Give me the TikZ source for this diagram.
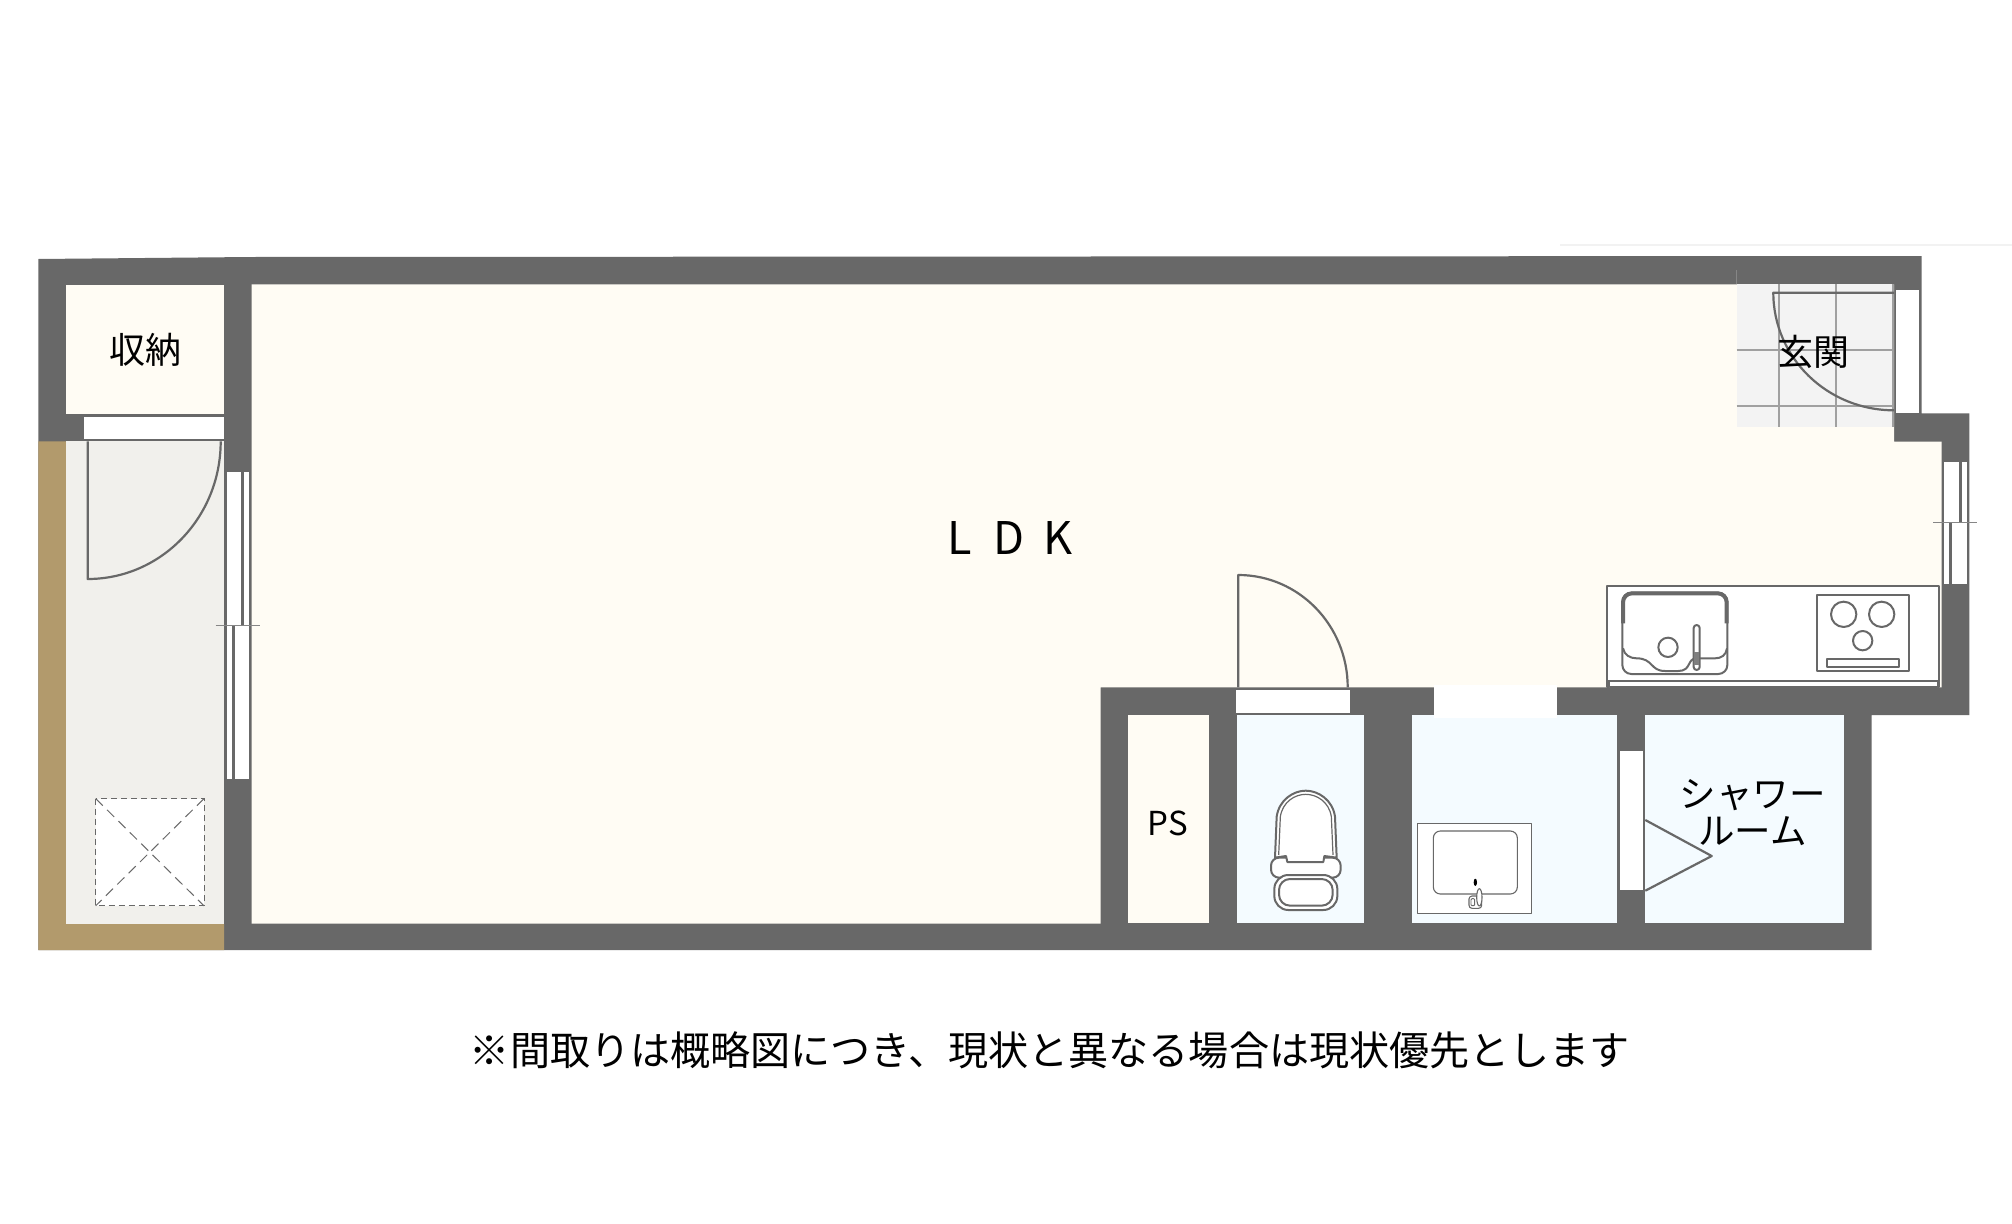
\documentclass[tikz,border=0pt]{standalone}
\usepackage{fontspec}
\setmainfont{Noto Sans CJK JP}
\definecolor{wallc}{HTML}{686868}
\definecolor{creamc}{HTML}{FFFCF4}
\definecolor{bluec}{HTML}{F4FBFF}
\definecolor{floorc}{HTML}{F1F0EC}
\definecolor{brownc}{HTML}{B29A6C}
\definecolor{tilec}{HTML}{F3F3F3}
\definecolor{tilel}{HTML}{A0A0A0}
\tikzset{
  wall/.style={fill=wallc},
  cream/.style={fill=creamc},
  wet/.style={fill=bluec},
  pane/.style={fill=white},
  doorline/.style={draw=wallc,line width=2.2pt,line join=round},
  fixture/.style={draw=wallc,line width=2pt,fill=white,line join=round},
  tick/.style={draw=wallc!80,line width=1pt},
  tileline/.style={draw=tilel,line width=2pt},
  zoomed/.style={x=0.33333pt,y=-0.33333pt},
  lab/.style={inner sep=0pt,text=black,font=\fontsize{36}{42}\selectfont,align=center}
}
\begin{document}
\begin{tikzpicture}[x=1pt,y=-1pt]
\useasboundingbox (0,0) rectangle (2012,1223);
\fill[white] (0,0) rectangle (2012,1223);
\draw[draw=black!5,line width=1.5pt] (1560,245) -- (2012,245);
% walls
\fill[wall] (38.3,259) -- (251,257) -- (1921.7,256) -- (1921.7,413.3) -- (1969.3,413.3) -- (1969.3,715) -- (1871.7,715) -- (1871.7,950) -- (38.3,950) -- cycle;
% storage
\fill[cream] (66,284.6) rectangle (224,413.8);
% hall
\fill[brownc] (38.3,441.4) -- (66,441.4) -- (66,924) -- (224,924) -- (224,950) -- (38.3,950) -- cycle;
\fill[floorc] (66,441.4) rectangle (224,924);
% LDK
\fill[cream] (251.7,284.3) -- (1894,284.3) -- (1894,441.7) -- (1941.7,441.7) -- (1941.7,687.3) -- (1100.7,687.3) -- (1100.7,923.5) -- (251.7,923.5) -- cycle;
% PS, toilet, wash, shower
\fill[cream] (1128.3,715) rectangle (1209.3,923.3);
\fill[wet] (1237.3,715) rectangle (1364,923.3);
\fill[wet] (1412,715) rectangle (1617.3,923.3);
\fill[wet] (1645.3,715) rectangle (1844,923.3);
% entrance tiles
\fill[tilec] (1736.7,284.3) rectangle (1894,427.3);
\foreach \gx in {1779.3,1835.7,1893} \draw[tileline] (\gx,284.3) -- (\gx,427.3);
\foreach \gy in {350,405.7} \draw[tileline] (1736.7,\gy) -- (1894,\gy);
\draw[tick] (1736.7,270) -- (1736.7,284.3);
% door openings
\fill[pane] (84,416.5) rectangle (224,438.6);
\fill[pane] (1896,290) rectangle (1919,413.3);
\fill[pane] (1235.7,690) rectangle (1350,712.7);
\fill[pane] (1434,685) rectangle (1556.7,717.7);
\fill[pane] (1620.3,751) rectangle (1643.3,890);
% left window
\fill[pane] (227.3,472) rectangle (241.3,625);
\fill[pane] (244,472) rectangle (249.3,625);
\fill[pane] (227.3,625) rectangle (232,779);
\fill[pane] (235,625) rectangle (249.3,779);
\draw[tick] (215.7,625) -- (260,625);
% right window
\fill[pane] (1944.3,461.7) rectangle (1959,522.7);
\fill[pane] (1961.7,461.7) rectangle (1966.7,522.7);
\fill[pane] (1944.3,522.7) rectangle (1949,584);
\fill[pane] (1952,522.7) rectangle (1966.7,584);
\draw[tick] (1933.3,522.7) -- (1977.3,522.7);
% door swings
\draw[doorline] (87.7,441.4) -- (87.7,579) .. controls (161.2,579) and (220.7,517.4) .. (220.7,441.4);
\draw[doorline] (1238.3,687.3) -- (1238.3,575) .. controls (1298.7,575) and (1347.7,625.3) .. (1347.7,687.3);
\draw[doorline] (1894,292.7) -- (1773.3,292.7) .. controls (1773.3,357.7) and (1827.3,410.3) .. (1894,410.3);
\draw[doorline] (1645.3,820) -- (1711.7,856) -- (1645.3,890.7);
% floor hatch
\draw[draw=wallc,line width=1pt,dash pattern=on 6pt off 4pt,fill=white] (95.7,798.6) rectangle (204,905.8);
\draw[draw=wallc,line width=1pt,dash pattern=on 10pt off 6pt] (95.7,798.6) -- (204,905.8);
\draw[draw=wallc,line width=1pt,dash pattern=on 10pt off 6pt] (204,798.6) -- (95.7,905.8);
% kitchen
\begin{scope}[shift={(1580,240)},zoomed]
\draw[fixture] (82,1038) rectangle (1078,1342);
\draw[fixture] (82,1323) -- (1078,1323);
\draw[fixture] (87,1323) -- (87,1342);
\draw[fixture] (1073,1323) -- (1073,1342);
\draw[fixture,line width=2pt,rounded corners=9pt] (127,1058) rectangle (442,1302);
\draw[draw=wallc,line width=4pt,rounded corners=9pt] (129,1150) -- (129,1060) -- (440,1060) -- (440,1150);
\draw[draw=wallc,line width=2pt] (129,1225) .. controls (133,1245) and (150,1255) .. (170,1255) .. controls (220,1255) and (210,1293) .. (255,1293) -- (295,1293) .. controls (335,1293) and (320,1255) .. (350,1255) -- (405,1255) .. controls (425,1255) and (438,1245) .. (441,1225);
\draw[fixture,rounded corners=3pt] (341,1155) rectangle (359,1290);
\fill[wallc!85] (342,1235) rectangle (358,1275);
\draw[fixture] (264,1222) circle[radius=29];
\draw[fixture] (710,1065) rectangle (988,1292);
\draw[fixture] (791,1123) circle[radius=38];
\draw[fixture] (905,1123) circle[radius=38];
\draw[fixture] (848,1202) circle[radius=29];
\draw[fixture] (742,1258) rectangle (957,1282);
\end{scope}
% toilet
\begin{scope}[shift={(1090,560)},zoomed]
\draw[fixture,rounded corners=8pt] (543,893) rectangle (752,953);
\draw[fixture] (555,893) -- (560,770) .. controls (567,720) and (610,692) .. (647,692) .. controls (685,692) and (728,720) .. (735,770) -- (740,893) -- (703,888) -- (700,906) -- (592,906) -- (588,888) -- cycle;
\draw[draw=wallc,line width=1.2pt] (566,885) -- (571,770) .. controls (578,725) and (615,703) .. (647,703) .. controls (680,703) and (717,725) .. (724,770) -- (729,885);
\draw[fixture,rounded corners=14pt] (553,945) rectangle (742,1050);
\draw[fixture,rounded corners=11pt] (567,957) rectangle (728,1037);
\end{scope}
% vanity
\begin{scope}[shift={(1410,820)},zoomed]
\draw[fixture,line width=1.5pt] (22,10) rectangle (365,280);
\draw[fixture,line width=1.1pt,rounded corners=7pt] (70,33) rectangle (322,222);
\fill[black] (196,187) ellipse[x radius=5,y radius=11];
\draw[fixture,line width=1.1pt,rounded corners=3pt] (177,228) rectangle (215,265);
\draw[fixture,line width=0.9pt,rounded corners=1pt] (183,236) rectangle (194,257);
\draw[fixture,line width=1.1pt] (208,232) ellipse[x radius=8,y radius=26];
\end{scope}
% labels
\node[lab] (storage) at (145,349.5) {収納};
\node[lab] (entry) at (1813.3,352) {玄関};
\node[lab,font=\fontsize{33}{40}\selectfont] (ps) at (1167.7,823.5) {PS};
\node[lab,font=\fontsize{45}{54}\selectfont] (ldk) at (1009,538.5) {\makebox[49pt]{L}\makebox[49pt]{D}\makebox[49pt]{K}};
\node[lab,font=\fontsize{36.5}{37}\selectfont] (shower) at (1752.5,813) {シャワー\\ルーム};
\node[lab,font=\fontsize{40.1}{48}\selectfont] (note) at (1050,1050) {※間取りは概略図につき、現状と異なる場合は現状優先とします};
\end{tikzpicture}
\end{document}
